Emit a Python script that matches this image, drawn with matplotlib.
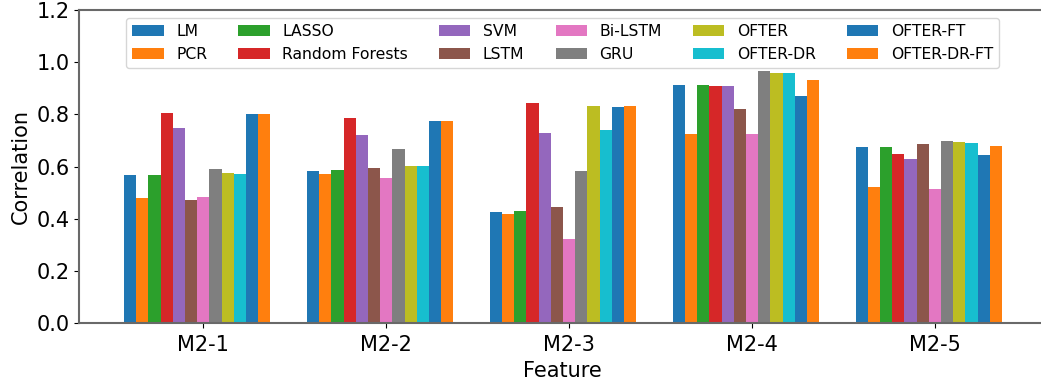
import matplotlib
matplotlib.use("Agg")
import matplotlib.pyplot as plt
import numpy as np

features = ["M2-1", "M2-2", "M2-3", "M2-4", "M2-5"]
methods = ["LM", "PCR", "LASSO", "Random Forests", "SVM", "LSTM", "Bi-LSTM",
           "GRU", "OFTER", "OFTER-DR", "OFTER-FT", "OFTER-DR-FT"]

# correlation per method, one value per feature (M2-1 .. M2-5)
lm = [0.568, 0.584, 0.427, 0.913, 0.675]
pcr = [0.480, 0.572, 0.419, 0.725, 0.522]
lasso = [0.568, 0.587, 0.431, 0.913, 0.675]
random_forests = [0.805, 0.786, 0.844, 0.909, 0.648]
svm = [0.748, 0.721, 0.729, 0.909, 0.629]
lstm = [0.472, 0.595, 0.446, 0.820, 0.686]
bi_lstm = [0.484, 0.557, 0.323, 0.725, 0.514]
gru = [0.591, 0.668, 0.583, 0.966, 0.698]
ofter = [0.576, 0.603, 0.832, 0.958, 0.694]
ofter_dr = [0.572, 0.603, 0.740, 0.958, 0.690]
ofter_ft = [0.802, 0.775, 0.828, 0.871, 0.644]
ofter_dr_ft = [0.802, 0.775, 0.832, 0.931, 0.679]

series = [lm, pcr, lasso, random_forests, svm, lstm, bi_lstm, gru,
          ofter, ofter_dr, ofter_ft, ofter_dr_ft]
colors = plt.rcParams['axes.prop_cycle'].by_key()['color']

fig = plt.figure(figsize=(10.41, 3.85), dpi=100)
ax = fig.add_axes([0.0762, 0.16, 0.9286, 0.8148])

x = np.arange(len(features))
w = 0.8 / len(methods)
for i, (name, vals) in enumerate(zip(methods, series)):
    ax.bar(x + (i - 6) * w, vals, w, label=name, color=colors[i % len(colors)])

ax.set_ylim(0, 1.2)
ax.set_xlim(-0.678, 4.607)
ax.set_xticks(x)
ax.set_xticklabels(features)
ax.set_xlabel("Feature", fontsize=15, labelpad=5)
ax.set_ylabel("Correlation", fontsize=15)
ax.tick_params(labelsize=15, color='black')
ax.tick_params(axis='x', pad=4.5)
for s in ax.spines.values():
    s.set_color('dimgray')
    s.set_linewidth(1.5)

ax.legend(ncol=6, loc='upper center', fontsize=11.25)

fig.savefig("out.png", dpi=100)
